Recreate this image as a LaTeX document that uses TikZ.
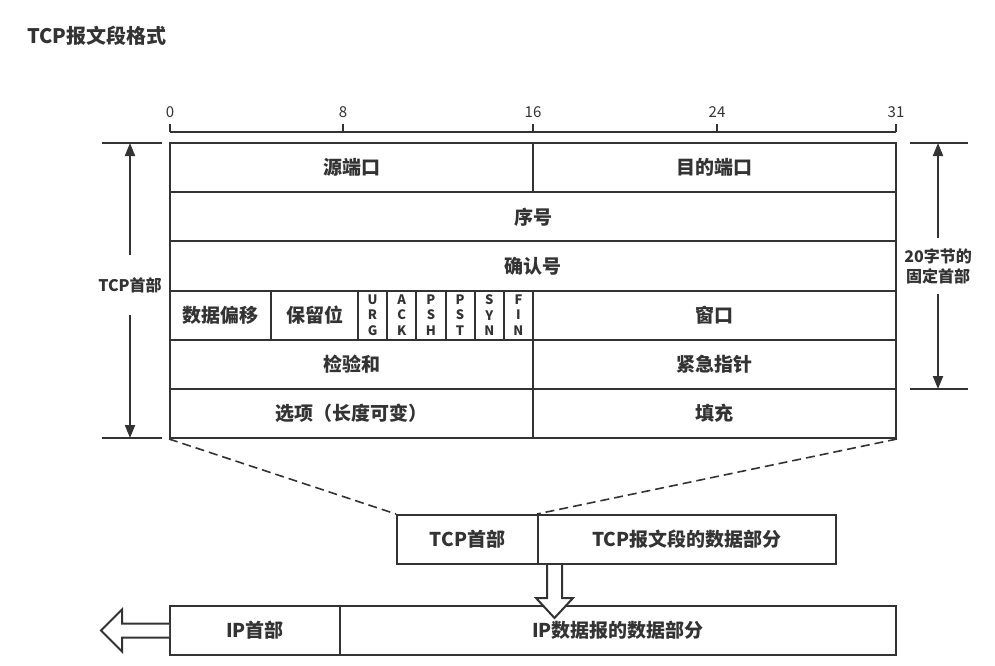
\documentclass[tikz,border=0pt]{standalone}
\usepackage{fontspec}
\setmainfont{Noto Sans CJK SC}
\usepackage{xcolor}
\usepackage{tikz}
\usetikzlibrary{arrows.meta,calc}

\definecolor{ink}{HTML}{333333}

\begin{document}
\begin{tikzpicture}[
    x=1pt, y=-1pt,
    text=ink,
    cell/.style={draw=ink, line width=2pt, minimum height=49.2pt, inner sep=0pt,
                 font=\fontsize{19}{21}\selectfont\bfseries},
    flagbox/.style={cell, minimum width=29.17pt, align=center,
                    font=\fontsize{13}{15.5}\selectfont\bfseries},
    rule/.style={draw=ink, line width=2pt},
    ruler/.style={font=\fontsize{15}{17}\selectfont, inner sep=0pt},
    sidelabel/.style={align=center, inner sep=0pt,
                      font=\fontsize{16}{20}\selectfont\bfseries},
    dimarrow/.style={-{Triangle[length=13pt,width=10pt]}, draw=ink, line width=2pt},
    zoomline/.style={draw=ink, line width=1.6pt, dash pattern=on 9pt off 5pt},
    hollow/.style={draw=ink, fill=white, line width=2pt, line join=miter}
]
\useasboundingbox (0,0) rectangle (995,666);

\node[anchor=west, inner sep=0pt, font=\fontsize{20}{22}\selectfont\bfseries] (title) at (27,36) {TCP报文段格式};

% bit ruler
\draw[rule] (170,132) -- (896,132);
\foreach \x/\n in {170/0, 343/8, 533/16, 717/24, 896/31} {
    \draw[rule] (\x,124) -- (\x,132);
    \node[ruler] (bit\n) at (\x,112) {\n};
}

% header fields
\node[cell, minimum width=363pt] (srcport) at (351.5,167.6) {源端口};
\node[cell, minimum width=363pt] (dstport) at (714.5,167.6) {目的端口};
\node[cell, minimum width=726pt] (seqno) at (533,216.75) {序号};
\node[cell, minimum width=726pt] (ackno) at (533,265.9) {确认号};
\node[cell, minimum width=101pt] (offset) at (220.5,315.1) {数据偏移};
\node[cell, minimum width=87pt] (reserved) at (314.5,315.1) {保留位};
\foreach \name/\letters [count=\i] in {urg/{U\\R\\G}, ack/{A\\C\\K}, psh/{P\\S\\H},
                                       pst/{P\\S\\T}, syn/{S\\Y\\N}, fin/{F\\I\\N}} {
    \node[flagbox] (\name) at ({358+29.17*(\i-0.5)},315.1) {\letters};
}
\node[cell, minimum width=363pt] (window) at (714.5,315.1) {窗口};
\node[cell, minimum width=363pt] (checksum) at (351.5,364.25) {检验和};
\node[cell, minimum width=363pt] (urgent) at (714.5,364.25) {紧急指针};
\node[cell, minimum width=363pt] (options) at (351.5,413.4) {选项（长度可变）};
\node[cell, minimum width=363pt] (padding) at (714.5,413.4) {填充};

% TCP header span
\draw[rule] (102,143) -- (162,143);
\draw[rule] (102,438) -- (162,438);
\coordinate (ltop) at (130,143);
\coordinate (lbot) at (130,438);
\node[sidelabel] (tcphdrlabel) at (130,285) {TCP首部};
\draw[dimarrow, shorten <=22pt] (tcphdrlabel.north) -- (ltop);
\draw[dimarrow, shorten <=22pt] (tcphdrlabel.south) -- (lbot);

% fixed 20 byte span
\draw[rule] (910,143) -- (968,143);
\draw[rule] (910,389) -- (968,389);
\coordinate (rtop) at (938,143);
\coordinate (rbot) at (938,389);
\node[sidelabel] (fixedlabel) at (938,266) {20字节的\\固定首部};
\draw[dimarrow, shorten <=10pt] (fixedlabel.north) -- (rtop);
\draw[dimarrow, shorten <=10pt] (fixedlabel.south) -- (rbot);

% TCP segment
\node[cell, minimum width=141pt, minimum height=49pt] (seghdr) at (467.5,539.5) {TCP首部};
\node[cell, minimum width=298pt, minimum height=49pt] (segdata) at (687,539.5) {TCP报文段的数据部分};
\draw[zoomline] (options.south west) -- (seghdr.north west);
\draw[zoomline] (padding.south east) -- (segdata.north west);

% IP datagram
\node[cell, minimum width=170pt, minimum height=49pt] (iphdr) at (255,630.5) {IP首部};
\node[cell, minimum width=556pt, minimum height=49pt] (ipdata) at (618,630.5) {IP数据报的数据部分};

\draw[hollow] ([xshift=10pt]segdata.south west) -- ++(0,33) -- ++(-11,0) -- ++(18.5,20)
    -- ++(18.5,-20) -- ++(-11,0) -- ++(0,-33);
\draw[hollow] ([yshift=7pt]iphdr.west) -- ++(-47,0) -- ++(0,-14) -- ++(-21,21)
    -- ++(21,21) -- ++(0,-14) -- ++(47,0);

\end{tikzpicture}
\end{document}
